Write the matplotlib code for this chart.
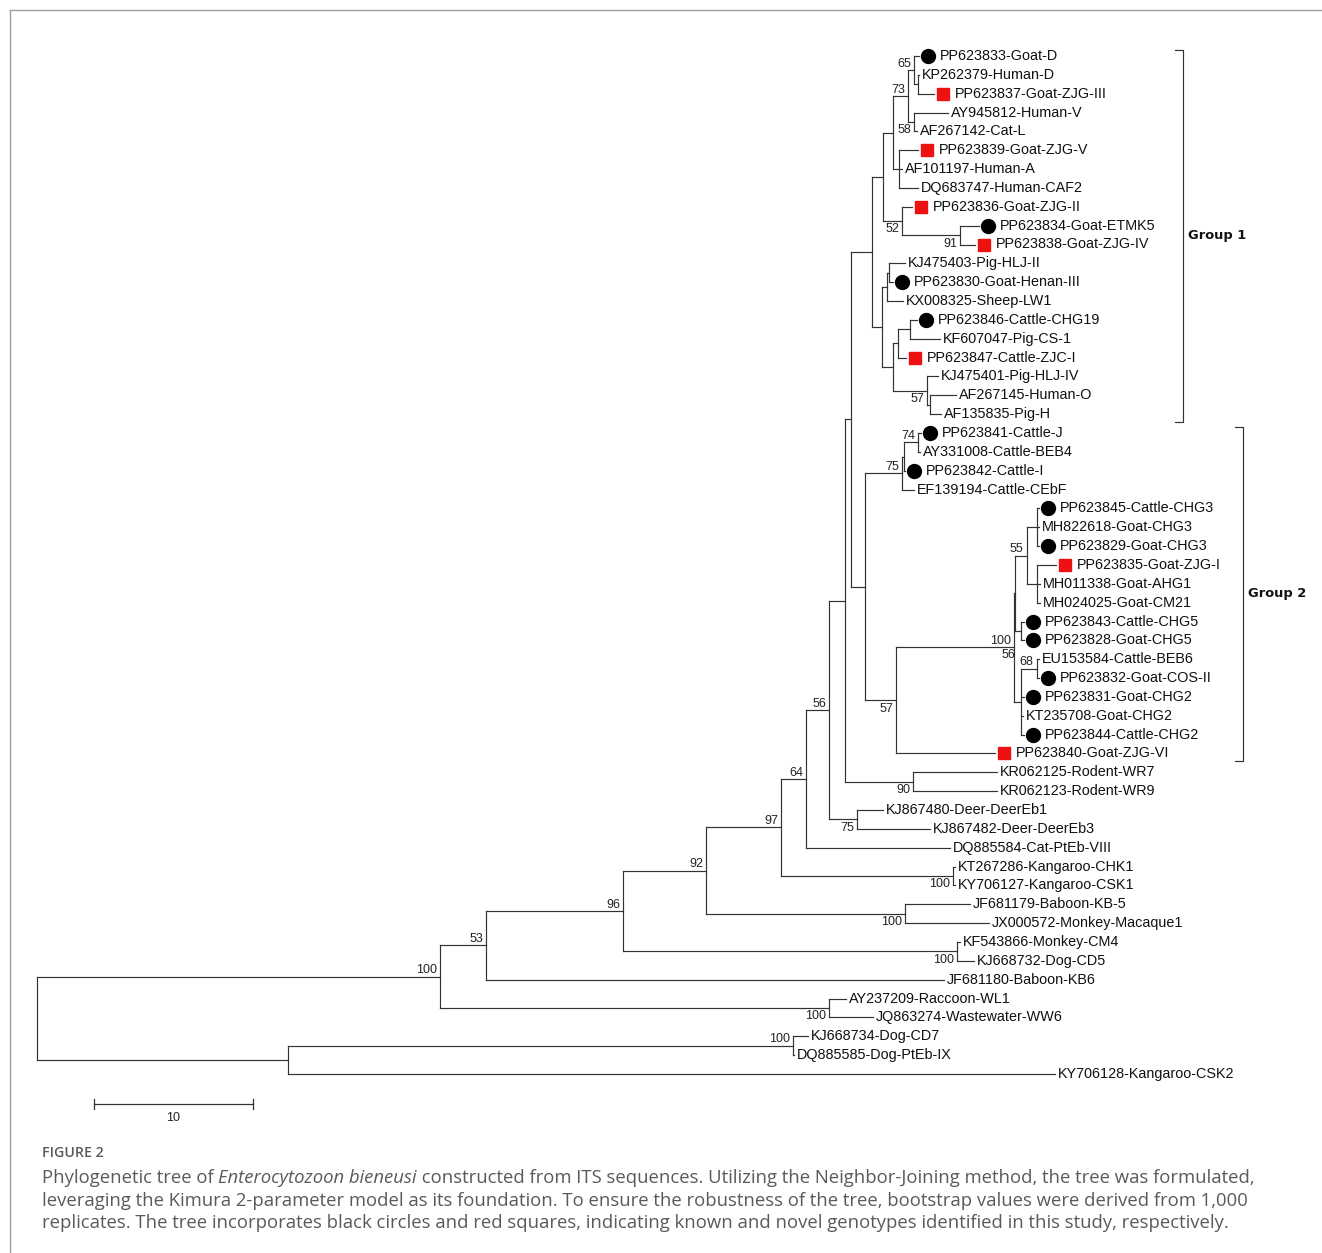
import matplotlib
matplotlib.use("Agg")
import matplotlib.pyplot as plt
from matplotlib.collections import LineCollection

# ---- tree data (Newick pieces, branch lengths in substitutions, bootstrap as node labels) ----
group1_upper = ("((((PP623833-Goat-D:0.31,(KP262379-Human-D:0.06,PP623837-Goat-ZJG-III:1.01):0.25)65:0.38,"
                "(AY945812-Human-V:2.14,AF267142-Cat-L:0.19)58:0.38)73:0.94,"
                "(PP623839-Goat-ZJG-V:1.19,AF101197-Human-A:0.19,DQ683747-Human-CAF2:1.19):0.38):0.66,"
                "(PP623836-Goat-ZJG-II:0.63,(PP623834-Goat-ETMK5:1.19,PP623838-Goat-ZJG-IV:0.94)91:3.65)52:1.23):0.66")
group1_lower = ("(((KJ475403-Pig-HLJ-II:1.01,PP623830-Goat-Henan-III:0.25):0.13,KX008325-Sheep-LW1:1.01):0.31,"
                "(((PP623846-Cattle-CHG19:0.44,KF607047-Pig-CS-1:1.89):0.75,PP623847-Cattle-ZJC-I:0.50):0.31,"
                "(KJ475401-Pig-HLJ-IV:0.69,(AF267145-Human-O:1.64,AF135835-Pig-H:0.69):0.19)57:2.14):0.69):0.63")
cattle_clade = ("(((PP623841-Cattle-J:0.19,AY331008-Cattle-BEB4:0.13)74:0.88,PP623842-Cattle-I:0.06):0.13,"
                "EF139194-Cattle-CEbF:0.75)75:2.33")
group2_core = ("((((PP623845-Cattle-CHG3:0.16,MH822618-Goat-CHG3:0.16,PP623829-Goat-CHG3:0.16):0.63,"
               "(PP623835-Goat-ZJG-I:1.23,MH011338-Goat-AHG1:0.22,MH024025-Goat-CM21:0.22):0.63)55:0.72,"
               "(PP623843-Cattle-CHG5:0.22,PP623828-Goat-CHG5:0.22):0.35):0.09,"
               "((EU153584-Cattle-BEB6:0.16,PP623832-Goat-COS-II:0.16)68:0.97,PP623831-Goat-CHG2:0.19,"
               "KT235708-Goat-CHG2:0.13,PP623844-Cattle-CHG2:0.19):0.47)100/56:7.39")
rodent_clade = "(KR062125-Rodent-WR7:5.28,KR062123-Rodent-WR9:5.28)90:4.28"
deer_clade = "(KJ867480-Deer-DeerEb1:1.64,KJ867482-Deer-DeerEb3:4.59)75:1.76"
kangaroo_clade = "(KT267286-Kangaroo-CHK1:0.13,KY706127-Kangaroo-CSK1:0.13)100:10.82"
primate_clade = "(JF681179-Baboon-KB-5:4.09,JX000572-Monkey-Macaque1:5.28)100:12.52"
cm4_clade = "(KF543866-Monkey-CM4:0.19,KJ668732-Dog-CD5:1.07)100:21.01"
raccoon_clade = "(AY237209-Raccoon-WL1:1.07,JQ863274-Wastewater-WW6:2.77)100:24.47"
outgroup_clade = ("((KJ668734-Dog-CD7:0.94,DQ885585-Dog-PtEb-IX:0.06)100:31.76,"
                  "KY706128-Kangaroo-CSK2:48.24):15.79")

group1 = "(" + group1_upper + "," + group1_lower + "):1.32"
group2 = "(" + group2_core + ",PP623840-Goat-ZJG-VI:6.23)57:1.95"
c_node = "(" + cattle_clade + "," + group2 + "):0.88"
a_node = "(" + group1 + "," + c_node + "):0.38"
b_node = "(" + a_node + "," + rodent_clade + "):1.01"
n56 = "(" + b_node + "," + deer_clade + ")56:1.45"
n64 = "(" + n56 + ",DQ885584-Cat-PtEb-VIII:9.06)64:1.57"
n97 = "(" + n64 + "," + kangaroo_clade + ")97:4.72"
n92 = "(" + n97 + "," + primate_clade + ")92:5.22"
n96 = "(" + n92 + "," + cm4_clade + ")96:8.62"
n53 = "(" + n96 + ",JF681180-Baboon-KB6:28.81)53:2.89"
n100 = "(" + n53 + "," + raccoon_clade + ")100:25.35"
tree_newick = "(" + n100 + "," + outgroup_clade + ");"

known_genotypes = ["PP623833-Goat-D", "PP623834-Goat-ETMK5", "PP623830-Goat-Henan-III",
                   "PP623846-Cattle-CHG19", "PP623841-Cattle-J", "PP623842-Cattle-I",
                   "PP623845-Cattle-CHG3", "PP623829-Goat-CHG3", "PP623843-Cattle-CHG5",
                   "PP623828-Goat-CHG5", "PP623832-Goat-COS-II", "PP623831-Goat-CHG2",
                   "PP623844-Cattle-CHG2"]
novel_genotypes = ["PP623837-Goat-ZJG-III", "PP623839-Goat-ZJG-V", "PP623836-Goat-ZJG-II",
                   "PP623838-Goat-ZJG-IV", "PP623847-Cattle-ZJC-I", "PP623835-Goat-ZJG-I",
                   "PP623840-Goat-ZJG-VI"]
group_names = ["Group 1", "Group 2"]
group_first = ["PP623833-Goat-D", "PP623841-Cattle-J"]
group_last = ["AF135835-Pig-H", "PP623840-Goat-ZJG-VI"]
scale_length = 10

caption_title = "FIGURE 2"
caption_parts = [("Phylogenetic tree of ", "normal"), ("Enterocytozoon bieneusi", "italic"),
                 (" constructed from ITS sequences. Utilizing the Neighbor-Joining method, the tree was formulated,", "normal")]
caption_lines = ["leveraging the Kimura 2-parameter model as its foundation. To ensure the robustness of the tree, bootstrap values were derived from 1,000",
                 "replicates. The tree incorporates black circles and red squares, indicating known and novel genotypes identified in this study, respectively."]


def parse_newick(text):
    pos = 0

    def read_node():
        nonlocal pos
        node = {"children": [], "label": "", "length": 0.0}
        if text[pos] == "(":
            pos += 1
            node["children"].append(read_node())
            while text[pos] == ",":
                pos += 1
                node["children"].append(read_node())
            pos += 1
        start = pos
        while text[pos] not in ":,);":
            pos += 1
        node["label"] = text[start:pos]
        if text[pos] == ":":
            pos += 1
            start = pos
            while text[pos] not in ",);":
                pos += 1
            node["length"] = float(text[start:pos])
        return node

    return read_node()


tree = parse_newick(tree_newick)
leaves = []


def layout(node, x0):
    node["x"] = x0 + node["length"]
    if not node["children"]:
        node["y"] = len(leaves)
        leaves.append(node)
    else:
        for c in node["children"]:
            layout(c, node["x"])
        node["y"] = (node["children"][0]["y"] + node["children"][-1]["y"]) / 2


layout(tree, 0.0)
leaf_y = {lf["label"]: lf["y"] for lf in leaves}

# ---- figure: one axes over the whole canvas, x in substitutions, y in leaf rows ----
W, H = 1322, 1253
fig = plt.figure(figsize=(W / 100, H / 100), dpi=100)
ax = fig.add_axes([0, 0, 1, 1])
ax.axis("off")
px_unit = 15.9     # pixels per substitution unit
px_row = 18.85     # pixels per leaf row
root_px, top_px = 37, 56
ax.set_xlim(-root_px / px_unit, (W - root_px) / px_unit)
ax.set_ylim((H - top_px) / px_row, -top_px / px_row)

line_col = "#333333"
leaf_font = dict(family="Liberation Sans", fontsize=10.4, color="#111111")
boot_font = dict(family="Liberation Sans", fontsize=9, color="#222222")
segs = []


def draw(node):
    kids = node["children"]
    if not kids:
        name = node["label"]
        off = 2.2
        if name in known_genotypes:
            ax.plot(node["x"] + 9 / px_unit, node["y"], "o", ms=10, color="black", mec="black", zorder=3)
            off = 15.1
        elif name in novel_genotypes:
            ax.plot(node["x"] + 9 / px_unit, node["y"], "s", ms=8.6, color="#ee1111", mec="#ee1111", zorder=3)
            off = 15.1
        ax.annotate(name, (node["x"], node["y"]), xytext=(off, 0), textcoords="offset points",
                    ha="left", va="center", **leaf_font)
        return
    segs.append([(node["x"], kids[0]["y"]), (node["x"], kids[-1]["y"])])
    for i, c in enumerate(kids):
        segs.append([(node["x"], c["y"]), (c["x"], c["y"])])
        draw(c)
        if c["children"] and c["label"]:
            vals = c["label"].split("/")
            if i == 0:
                ax.annotate(vals[0], (c["x"], c["y"]), xytext=(-2.2, 0.2), textcoords="offset points",
                            ha="right", va="bottom", **boot_font)
                if len(vals) > 1:
                    ax.annotate(vals[1], (c["x"], c["y"]), xytext=(1.5, -0.8), textcoords="offset points",
                                ha="right", va="top", **boot_font)
            else:
                ax.annotate(vals[0], (c["x"], c["y"]), xytext=(-2.2, -1.8), textcoords="offset points",
                            ha="right", va="top", **boot_font)


draw(tree)
ax.add_collection(LineCollection(segs, colors=line_col, linewidths=0.85, capstyle="projecting"))

# group brackets
bracket_x = [(1183 - root_px) / px_unit, (1243 - root_px) / px_unit]
tick = 8 / px_unit
for name, first, last, bx in zip(group_names, group_first, group_last, bracket_x):
    y0 = leaf_y[first] - 0.3
    y1 = leaf_y[last] + 0.42
    ax.plot([bx - tick, bx, bx, bx - tick], [y0, y0, y1, y1], color=line_col, lw=0.85)
    ax.text(bx + 5 / px_unit, (leaf_y[first] + leaf_y[last]) / 2, name, ha="left", va="center",
            family="DejaVu Sans", fontweight="bold", fontsize=9.4, color="#111111")

# scale bar
sx0 = (94 - root_px) / px_unit
sy = (1104 - top_px) / px_row
ax.plot([sx0, sx0 + scale_length], [sy, sy], color=line_col, lw=0.9)
for sx in (sx0, sx0 + scale_length):
    ax.plot([sx, sx], [sy - 0.25, sy + 0.25], color=line_col, lw=0.9)
ax.text(sx0 + scale_length / 2, sy + 0.45, str(scale_length), ha="center", va="top", **boot_font)

# frame lines (top and left)
fig.add_artist(plt.Line2D([10 / W, 1], [1 - 9.5 / H, 1 - 9.5 / H], color="#a0a0a0", lw=1.0))
fig.add_artist(plt.Line2D([10 / W, 10 / W], [0, 1 - 9.5 / H], color="#a0a0a0", lw=1.0))

# caption
cap_font = dict(family="Open Sans", fontsize=13.3, color="#5a5a5a")
fig.text(42 / W, 1 - 1153 / H, caption_title, ha="left", va="center", family="Open Sans",
         fontweight="semibold", fontsize=10.2, color="#5a5a5a")
renderer = fig.canvas.get_renderer()
x_px = 42
for txt, style in caption_parts:
    t = fig.text(x_px / W, 1 - 1178 / H, txt, ha="left", va="center", style=style, **cap_font)
    x_px = t.get_window_extent(renderer).x1
for k, line in enumerate(caption_lines):
    fig.text(42 / W, 1 - (1200.5 + 22.3 * k) / H, line, ha="left", va="center", **cap_font)

fig.savefig("out.png", dpi=100)
